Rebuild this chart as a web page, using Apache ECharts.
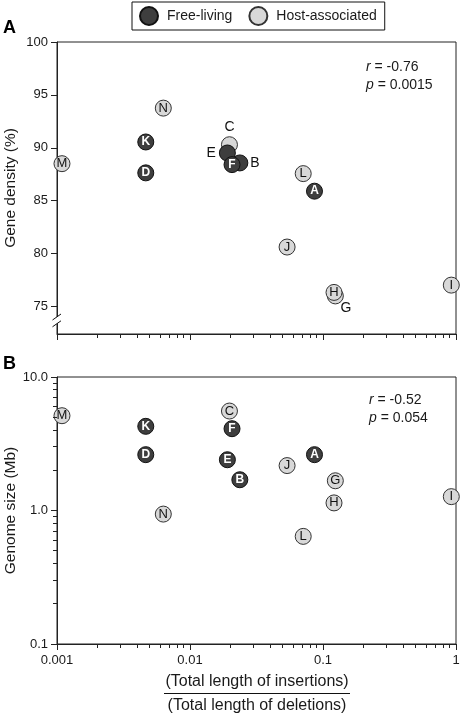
<!DOCTYPE html>
<html><head><meta charset="utf-8">
<script src="https://cdn.jsdelivr.net/npm/echarts@6/dist/echarts.min.js"></script>
<style>html,body{margin:0;padding:0;background:#fff}#c{width:462px;height:716px}</style>
</head><body><div id="c"></div>
<script>
// ---- data (drawing order matters for overlaps) ----
const names        = ['M','N','K','D','C','G','H','I','J','L','A','E','B','F'];
const groups       = ['Host-associated','Host-associated','Free-living','Free-living','Host-associated','Host-associated','Host-associated','Host-associated','Host-associated','Host-associated','Free-living','Free-living','Free-living','Free-living'];
const insDelRatio  = [0.00109, 0.0063, 0.00465, 0.00465, 0.0198, 0.1238, 0.121, 0.922, 0.0537, 0.0710, 0.0863, 0.0191, 0.0237, 0.0207];
const geneDensity  = [88.5, 93.75, 90.55, 87.63, 90.29, 76.0, 76.33, 77.02, 80.62, 87.56, 85.9, 89.51, 88.57, 88.41];
const genomeSize   = [5.13, 0.94, 4.27, 2.62, 5.56, 1.67, 1.14, 1.27, 2.17, 0.64, 2.62, 2.40, 1.70, 4.10];
const groupNames   = ['Free-living','Host-associated'];
const xTickLabels  = ['0.001','0.01','0.1','1'];
const densityTicks = [75,80,85,90,95,100];
const sizeTickLabels = ['0.1','1.0','10.0'];
const statsA = {r:'-0.76', p:'0.0015'};
const statsB = {r:'-0.52', p:'0.054'};

// ---- styles ----
const FONT = '"Liberation Sans", Arial, Helvetica, sans-serif';
const INK = '#1a1a1a';
const AXIS = '#222';
const style = {
  'Free-living':     {color:'#3e3e3e', borderColor:'#111', borderWidth:1, labelColor:'#fff', labelWeight:'bold', labelSize:12},
  'Host-associated': {color:'#d8d8d8', borderColor:'#333', borderWidth:1, labelColor:'#111', labelWeight:'normal', labelSize:13}
};
const outsideLabelA = {
  C:{position:'top', distance:2},
  E:{position:'left', distance:3},
  B:{position:'right', distance:2},
  G:{position:[19,21], align:'center', verticalAlign:'middle'}
};

function buildSeries(panel){
  const yVals = panel===0 ? geneDensity : genomeSize;
  const order = ['Host-associated','Free-living'];
  return order.map(g=>{
    const st = style[g];
    const data=[];
    names.forEach((n,i)=>{
      if(groups[i]!==g) return;
      const item={name:n, value:[insDelRatio[i], yVals[i]]};
      if(panel===0 && outsideLabelA[n]){
        item.label=Object.assign({color:'#111', fontWeight:'normal', fontSize:14}, outsideLabelA[n]);
      }
      data.push(item);
    });
    return {
      name:g, type:'scatter', xAxisIndex:panel, yAxisIndex:panel,
      symbol:'circle', symbolSize:16, z: g==='Free-living'?4:3,
      itemStyle:{color:st.color, borderColor:st.borderColor, borderWidth:st.borderWidth, opacity:1},
      label:{show:true, position:'inside', formatter:'{b}', color:st.labelColor, fontWeight:st.labelWeight, fontSize:st.labelSize, fontFamily:FONT},
      emphasis:{disabled:true},
      data
    };
  });
}

const axisLineStyle = {color:AXIS, width:1};
const gridBase = {show:true, borderColor:AXIS, borderWidth:1, backgroundColor:'transparent', outerBoundsMode:'none', containLabel:false, left:57, right:6};
const gridA = Object.assign({}, gridBase, {top:42, height:292});
const gridB = Object.assign({}, gridBase, {top:377, height:267});

const xLogAxis = (gi, showLabel)=>({
  gridIndex:gi, type:'log', logBase:10, min:0.001, max:1, position:'bottom',
  axisLine:{show:true, onZero:false, lineStyle:axisLineStyle},
  axisTick:{show:true, inside:false, length:6, lineStyle:axisLineStyle},
  axisLabel:{show:showLabel, margin:10, color:INK, fontSize:13, fontFamily:FONT,
    formatter:v=>xTickLabels[Math.round(Math.log10(v))+3]},
  splitLine:{show:false}
});

const baseGraphic = [
  {type:'text', left:3, top:19, style:{text:'A', font:'bold 18px '+FONT, fill:'#000'}},
  {type:'text', left:3, top:355, style:{text:'B', font:'bold 18px '+FONT, fill:'#000'}},
  {type:'text', left:366, top:58, style:{text:'{i|r} = '+statsA.r+'\n{i|p} = '+statsA.p, font:'14px '+FONT, fill:INK, lineHeight:18,
     rich:{i:{fontStyle:'italic', fontSize:14, fontFamily:FONT}}}},
  {type:'text', left:369, top:391, style:{text:'{i|r} = '+statsB.r+'\n{i|p} = '+statsB.p, font:'14px '+FONT, fill:INK, lineHeight:18,
     rich:{i:{fontStyle:'italic', fontSize:14, fontFamily:FONT}}}},
  {type:'text', x:257, y:682, style:{text:'(Total length of insertions)', font:'16px '+FONT, fill:INK, align:'center', verticalAlign:'middle'}},
  {type:'line', shape:{x1:164, y1:693.5, x2:350, y2:693.5}, style:{stroke:'#111', lineWidth:1.2}},
  {type:'text', x:257, y:706, style:{text:'(Total length of deletions)', font:'16px '+FONT, fill:INK, align:'center', verticalAlign:'middle'}},
  {type:'polygon', z:100, shape:{points:[[52.5,320],[61,314],[61,320.8],[52.5,326.8]]}, style:{fill:'#fff'}},
  {type:'line', z:101, shape:{x1:52.5, y1:320, x2:61, y2:314}, style:{stroke:'#111', lineWidth:1}},
  {type:'line', z:101, shape:{x1:52.5, y1:326.8, x2:61, y2:320.8}, style:{stroke:'#111', lineWidth:1}}
];

const option = {
  animation:false,
  backgroundColor:'#fff',
  textStyle:{fontFamily:FONT},
  legend:{
    data:groupNames, left:132, top:2, padding:[4,8,4,7], itemGap:16, itemWidth:18, itemHeight:18,
    icon:'circle', borderColor:'#111', borderWidth:1, selectedMode:false,
    textStyle:{fontSize:14, color:INK, fontFamily:FONT, padding:[0,0,0,4]}
  },
  grid:[gridA, gridB],
  xAxis:[ xLogAxis(0,false), xLogAxis(1,true) ],
  yAxis:[
    {gridIndex:0, type:'value', min:72.4, max:100, position:'left',
     name:'Gene density (%)', nameLocation:'middle', nameGap:38, nameMoveOverlap:false,
     nameTextStyle:{fontSize:15.5, color:INK, fontFamily:FONT},
     axisLine:{show:true, onZero:false, lineStyle:axisLineStyle},
     axisTick:{show:true, length:6, lineStyle:axisLineStyle, customValues:densityTicks},
     axisLabel:{show:true, margin:9, color:INK, fontSize:13, fontFamily:FONT, customValues:densityTicks},
     splitLine:{show:false}},
    {gridIndex:1, type:'log', logBase:10, min:0.1, max:10, position:'left',
     name:'Genome size (Mb)', nameLocation:'middle', nameGap:38, nameMoveOverlap:false,
     nameTextStyle:{fontSize:15.5, color:INK, fontFamily:FONT},
     axisLine:{show:true, onZero:false, lineStyle:axisLineStyle},
     axisTick:{show:true, length:6, lineStyle:axisLineStyle},
     axisLabel:{show:true, margin:9, color:INK, fontSize:13, fontFamily:FONT,
       formatter:v=>sizeTickLabels[Math.round(Math.log10(v))+1]},
     splitLine:{show:false}}
  ],
  series:[...buildSeries(0), ...buildSeries(1)],
  graphic: baseGraphic
};
const chart = echarts.init(document.getElementById('c'), null, {renderer:'canvas'});
chart.setOption(option);

// log-axis minor ticks (2..9 per decade), placed through the axes' own scales
const minorTicks = [];
const MINOR_LEN = 4;
const crisp = v => Math.round(v - 0.5) + 0.5;
function minorValues(d0, d1){ const o=[]; for(let d=d0; d<d1; d++) for(let k=2;k<=9;k++) o.push(k*Math.pow(10,d)); return o; }
const gridYRef = [90, 1];
[[0, 334], [1, 644]].forEach(([gi, yBase])=>{
  minorValues(-3,0).forEach(v=>{
    const p = chart.convertToPixel({gridIndex:gi}, [v, gridYRef[gi]]);
    if(!p || !isFinite(p[0])) return;
    const px = crisp(p[0]);
    minorTicks.push({type:'line', silent:true, z:50, shape:{x1:px, y1:yBase, x2:px, y2:yBase+MINOR_LEN}, style:{stroke:AXIS, lineWidth:1}});
  });
});
minorValues(-1,1).forEach(v=>{
  const p = chart.convertToPixel({gridIndex:1}, [0.01, v]);
  if(!p || !isFinite(p[1])) return;
  const py = crisp(p[1]);
  minorTicks.push({type:'line', silent:true, z:50, shape:{x1:57-MINOR_LEN, y1:py, x2:57, y2:py}, style:{stroke:AXIS, lineWidth:1}});
});
chart.setOption({graphic: baseGraphic.concat(minorTicks)});
</script></body></html>
